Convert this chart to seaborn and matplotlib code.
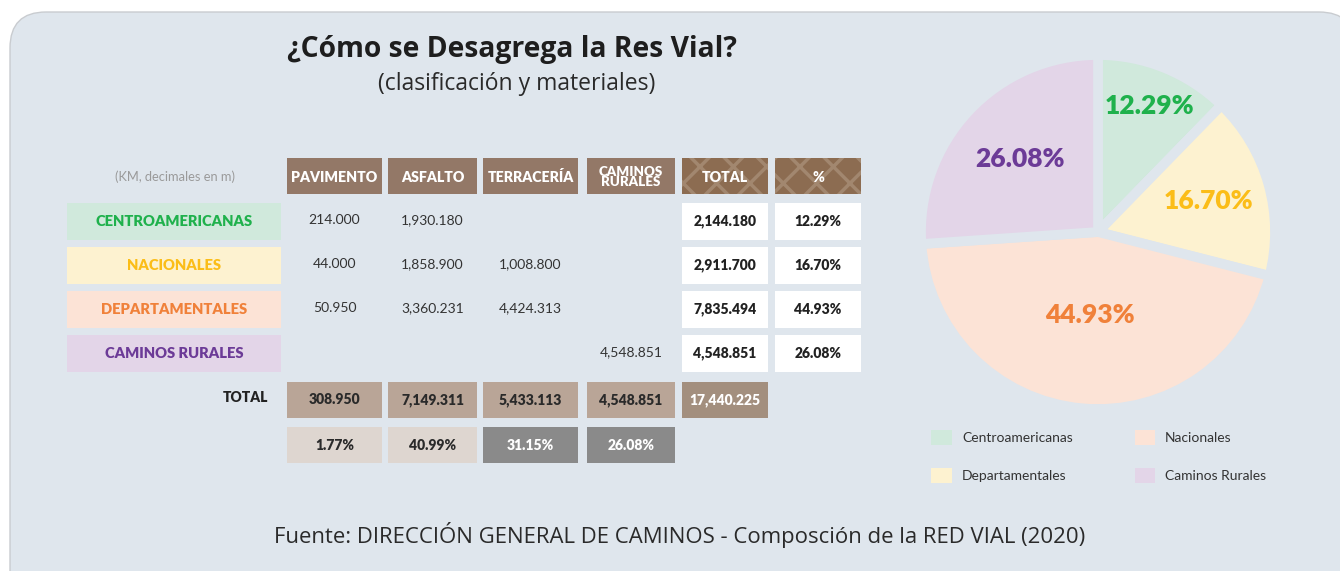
import numpy as np
import pandas as pd
import matplotlib
matplotlib.use("Agg")
import matplotlib.pyplot as plt
from matplotlib.patches import Rectangle, FancyBboxPatch, Patch
import seaborn as sns

# ---------------------------------------------------------------------------
# Data (km, decimales en m)
# ---------------------------------------------------------------------------
categories = ["CENTROAMERICANAS", "NACIONALES", "DEPARTAMENTALES", "CAMINOS RURALES"]
materials = ["PAVIMENTO", "ASFALTO", "TERRACERÍA", "CAMINOS\nRURALES"]
pavimento = [214.000, 44.000, 50.950, np.nan]
asfalto = [1930.180, 1858.900, 3360.231, np.nan]
terraceria = [np.nan, 1008.800, 4424.313, np.nan]
caminos_rurales = [np.nan, np.nan, np.nan, 4548.851]

pie_labels = ["Centroamericanas", "Nacionales", "Departamentales", "Caminos Rurales"]
pie_shares = [12.29, 16.70, 44.93, 26.08]

# legend as printed in the source (colours as shown there)
legend_labels = ["Centroamericanas", "Departamentales", "Nacionales", "Caminos Rurales"]
legend_colors = ["#d0e9dc", "#fdf2d0", "#fce3d6", "#e3d5e8"]

# Style
sns.set_theme(style="white")
plt.rcParams["font.family"] = ["Lato", "DejaVu Sans"]
plt.rcParams["hatch.linewidth"] = 2.5

panel_bg = "#dfe6ed"
fill_colors = sns.color_palette(["#d0e9dc", "#fdf2d0", "#fce3d6", "#e3d5e8"])
text_colors = ["#1fb14c", "#fbbd18", "#f0813a", "#6c3b97"]
header_brown = "#937867"

df = pd.DataFrame(
    {materials[0]: pavimento, materials[1]: asfalto,
     materials[2]: terraceria, materials[3]: caminos_rurales},
    index=categories)
row_totals = df.sum(axis=1)
col_totals = df.sum(axis=0)
grand_total = row_totals.sum()
row_pct = row_totals / grand_total * 100
col_pct = col_totals / grand_total * 100

fig = plt.figure(figsize=(13.4, 5.71), dpi=100)
fig.patch.set_facecolor("white")

# full-figure canvas in pixel units
bg = fig.add_axes([0, 0, 1, 1])
bg.set_xlim(0, 1340)
bg.set_ylim(571, 0)
bg.axis("off")

bg.add_patch(FancyBboxPatch((10, 12), 1345, 620,
                            boxstyle="round,pad=0,rounding_size=36",
                            facecolor=panel_bg, edgecolor="#c9ccd0", lw=1))

# Titles
bg.text(512, 50, "¿Cómo se Desagrega la Res Vial?", ha="center", va="center",
        fontsize=20.3, fontweight="bold", color="#1e1e1e", family=["Open Sans"])
bg.text(517, 84, "(clasificación y materiales)", ha="center", va="center",
        fontsize=16.5, color="#2a2a2a", family=["Open Sans"])

# Table layout
col_x = [287, 388, 483, 587, 682, 775]
col_w = [95, 89, 95, 88, 86, 86]
row_y = [203, 247, 291, 335]
row_h = 37
label_x, label_w = 67, 214
head_y, head_h = 158, 36
tot_y, pct_y, cell_h = 382, 427, 36

bg.text(175, 177, "(KM, decimales en m)", ha="center", va="center",
        fontsize=9.3, color="#9a9a9a")

# header cells
headers = materials + ["TOTAL", "%"]
for j, name in enumerate(headers):
    patterned = j >= 4
    bg.add_patch(Rectangle((col_x[j], head_y), col_w[j], head_h,
                           facecolor="#8c6c51" if patterned else header_brown,
                           edgecolor="#a2876f" if patterned else "none",
                           hatch="x" if patterned else None, lw=0))
    two_lines = "\n" in name
    bg.text(col_x[j] + col_w[j] / 2, head_y + head_h / 2 + 1, name,
            ha="center", va="center", color="white", fontweight="heavy",
            fontsize=9.6 if two_lines else 10.2, linespacing=0.82)

# category rows
for i, cat in enumerate(categories):
    y = row_y[i]
    bg.add_patch(Rectangle((label_x, y), label_w, row_h,
                           facecolor=fill_colors[i], lw=0))
    bg.text(label_x + label_w / 2, y + row_h / 2, cat, ha="center", va="center",
            fontsize=10.6, fontweight="heavy", color=text_colors[i])
    for j, m in enumerate(materials):
        v = df.loc[cat, m]
        if not np.isnan(v):
            bg.text(col_x[j] + col_w[j] / 2, y + row_h / 2 - 1.5, f"{v:,.3f}",
                    ha="center", va="center", fontsize=10, color="#333333")
    for j, txt in [(4, f"{row_totals[cat]:,.3f}"), (5, f"{row_pct[cat]:.2f}%")]:
        bg.add_patch(Rectangle((col_x[j], y), col_w[j], row_h,
                               facecolor="white", lw=0))
        bg.text(col_x[j] + col_w[j] / 2, y + row_h / 2, txt, ha="center",
                va="center", fontsize=10, fontweight="heavy", color="#222222")

# totals row
bg.text(245, 398, "TOTAL", ha="center", va="center", fontsize=10,
        fontweight="heavy", color="#222222")
for j, m in enumerate(materials):
    bg.add_patch(Rectangle((col_x[j], tot_y), col_w[j], cell_h,
                           facecolor="#b9a597", lw=0))
    bg.text(col_x[j] + col_w[j] / 2, tot_y + cell_h / 2, f"{col_totals[m]:,.3f}",
            ha="center", va="center", fontsize=10, fontweight="heavy", color="#2a2a2a")
bg.add_patch(Rectangle((col_x[4], tot_y), col_w[4], cell_h,
                       facecolor="#a38f7e", lw=0))
bg.text(col_x[4] + col_w[4] / 2, tot_y + cell_h / 2, f"{grand_total:,.3f}",
        ha="center", va="center", fontsize=10, fontweight="heavy", color="white")

# percentage row
pct_fill = ["#ded6d0", "#ded6d0", "#8a8a8a", "#8a8a8a"]
pct_text = ["#2a2a2a", "#2a2a2a", "white", "white"]
for j, m in enumerate(materials):
    bg.add_patch(Rectangle((col_x[j], pct_y), col_w[j], cell_h,
                           facecolor=pct_fill[j], lw=0))
    bg.text(col_x[j] + col_w[j] / 2, pct_y + cell_h / 2, f"{col_pct[m]:.2f}%",
            ha="center", va="center", fontsize=10, fontweight="heavy", color=pct_text[j])

# source
bg.text(680, 535, "Fuente: DIRECCIÓN GENERAL DE CAMINOS - Composción de la RED VIAL (2020)",
        ha="center", va="center", fontsize=15.9, color="#2a2a2a", family=["Open Sans"])

# ---------------------------------------------------------------------------
# Pie chart
# ---------------------------------------------------------------------------
cx, cy, half = 1098, 232, 177
pax = fig.add_axes([(cx - half) / 1340, 1 - (cy + half) / 571, 2 * half / 1340, 2 * half / 571])
wedges, _ = pax.pie(pie_shares, colors=fill_colors, startangle=90, counterclock=False,
                    radius=1.0, wedgeprops=dict(edgecolor=panel_bg, linewidth=7))
pax.set_xlim(-1, 1)
pax.set_ylim(-1, 1)
pax.set_aspect("equal")
pax.patch.set_alpha(0)
pax.axis("off")

label_dist = [0.77, 0.65, 0.47, 0.6]
for w, share, col, d in zip(wedges, pie_shares, text_colors, label_dist):
    ang = np.deg2rad((w.theta1 + w.theta2) / 2)
    pax.text(d * np.cos(ang), d * np.sin(ang), f"{share:.2f}%", ha="center",
             va="center", fontsize=19, fontweight="heavy", color=col)

handles = [Patch(facecolor=c, edgecolor="none") for c in legend_colors]
fig.legend(handles, legend_labels, ncol=2, loc="upper left",
           bbox_to_anchor=(919 / 1340, 1 - 417 / 571), frameon=False,
           fontsize=10, handlelength=1.45, handleheight=1.3, handletextpad=0.75,
           columnspacing=4.45, labelspacing=1.7, labelcolor="#333333")

fig.savefig("out.png", dpi=100, facecolor="white")
